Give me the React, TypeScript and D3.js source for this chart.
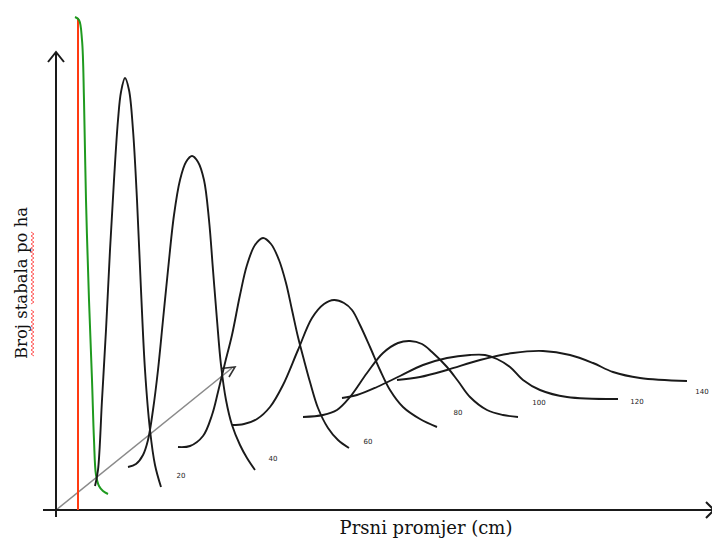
import React from "react";
import * as d3 from "d3";

// Diameter classes (cm) – one distribution curve per class
const classLabels = ["20", "40", "60", "80", "100", "120", "140"];

// Curves as [x, y] pairs in chart units (x: diameter axis, y: trees per ha)
const curve20: [number, number][] = [
  [39, 24], [42, 40], [46, 110], [50, 180], [54, 260], [58, 330], [62, 390], [65, 418], [69, 432],
  [73, 420], [77, 380], [81, 310], [85, 220], [89, 140], [94, 80], [99, 45], [105, 23],
];
const curve40: [number, number][] = [
  [72, 43], [80, 46], [87, 55], [92, 70], [97, 100], [102, 140], [107, 190], [112, 240], [118, 295],
  [124, 330], [130, 348], [136, 354], [142, 348], [148, 330], [153, 290], [157, 240], [161, 190],
  [165, 145], [170, 110], [176, 85], [184, 65], [191, 52], [199, 40],
];
const curve60: [number, number][] = [
  [122, 63], [134, 64], [147, 74], [156, 95], [162, 118], [169, 147], [176, 175], [184, 215], [191, 245],
  [199, 265], [207, 272], [215, 266], [223, 250], [230, 227], [236, 200], [242, 173], [248, 150],
  [254, 128], [262, 102], [272, 82], [282, 70], [293, 62],
];
const curve80: [number, number][] = [
  [176, 85], [188, 86], [201, 91], [214, 103], [227, 125], [242, 160], [256, 192], [268, 206], [278, 210],
  [288, 207], [296, 200], [304, 185], [314, 163], [324, 140], [334, 120], [347, 103], [364, 91], [381, 83],
];
const curve100: [number, number][] = [
  [247, 93], [267, 95], [281, 100], [294, 113], [311, 137], [327, 157], [342, 167], [354, 169], [366, 166],
  [376, 158], [391, 143], [402, 129], [414, 113], [431, 100], [447, 95], [462, 93],
];
const curve120: [number, number][] = [
  [286, 112], [301, 115], [321, 123], [344, 134], [367, 145], [391, 152], [414, 155], [429, 155],
  [441, 151], [454, 143], [467, 130], [484, 120], [511, 113], [562, 111],
];
const curve140: [number, number][] = [
  [341, 130], [364, 133], [391, 140], [424, 150], [457, 157], [487, 159], [514, 155], [537, 147],
  [557, 138], [584, 132], [631, 129],
];
const curves = [curve20, curve40, curve60, curve80, curve100, curve120, curve140];

// Label anchors for the class numbers (chart units)
const labelAnchors: [number, number][] = [
  [125, 34], [217, 51], [312, 68], [402, 97], [483, 107], [581, 108], [646, 118],
];

// Reverse-J (uneven-aged) distribution – green
const greenCurve: [number, number][] = [
  [19, 493], [23, 490], [26, 470], [28, 410], [30, 310], [33, 210], [36, 130], [38, 70],
  [40, 35], [43, 24], [47, 19], [52, 16],
];
// Red vertical reference line
const redLine: [number, number][] = [[22, 492], [22, 0]];
// Diagonal time axis
const diagonal: [number, number][] = [[0, 0], [176, 142]];

const W = 712;
const H = 539;

export default function App() {
  const x = d3.scaleLinear().domain([0, 656]).range([56, 712]);
  const y = d3.scaleLinear().domain([0, 500]).range([510, 10]);
  const line = d3
    .line<[number, number]>()
    .x((d) => x(d[0]))
    .y((d) => y(d[1]))
    .curve(d3.curveCatmullRom.alpha(0.5));
  const straight = d3
    .line<[number, number]>()
    .x((d) => x(d[0]))
    .y((d) => y(d[1]));

  const x0 = x(0);
  const y0 = y(0);
  const yTop = 52;
  const xRight = 714;

  // diagonal arrow tip
  const dEnd = diagonal[1];
  const tx = x(dEnd[0]);
  const ty = y(dEnd[1]);

  // spellcheck squiggle under y label
  const squig = (ya: number, yb: number) => {
    const pts: [number, number][] = [];
    let k = 0;
    for (let yy = ya; yy <= yb; yy += 2) {
      pts.push([k % 2 === 0 ? 31 : 34, yy]);
      k++;
    }
    return d3.line()(pts) || "";
  };

  return (
    <svg
      width={W}
      height={H}
      style={{ position: "absolute", left: 0, top: 0, background: "#fff" }}
    >
      <rect width={W} height={H} fill="#fff" />
      {/* diagonal axis */}
      <path d={straight(diagonal) || ""} stroke="#8a8a8a" strokeWidth={1.6} fill="none" />
      <path
        d={`M${tx - 11},${ty + 0.5} L${tx + 3},${ty - 1} L${tx - 3},${ty + 9}`}
        stroke="#333"
        strokeWidth={1.6}
        fill="none"
      />
      {/* axes */}
      <line x1={x0} y1={y0 + 7} x2={x0} y2={yTop} stroke="#1a1a1a" strokeWidth={2} />
      <path
        d={`M${x0 - 8},${yTop + 10} L${x0},${yTop} L${x0 + 8},${yTop + 10}`}
        stroke="#1a1a1a"
        strokeWidth={2}
        fill="none"
      />
      <line x1={43} y1={y0} x2={xRight} y2={y0} stroke="#1a1a1a" strokeWidth={2} />
      <path
        d={`M${xRight - 8},${y0 - 8} L${xRight},${y0} L${xRight - 8},${y0 + 8}`}
        stroke="#1a1a1a"
        strokeWidth={2}
        fill="none"
      />
      {/* red line */}
      <path d={straight(redLine) || ""} stroke="#ff3b12" strokeWidth={2} fill="none" />
      {/* green curve */}
      <path d={line(greenCurve) || ""} stroke="#1f9a1f" strokeWidth={2} fill="none" />
      {/* class curves */}
      {curves.map((c, i) => (
        <path key={i} d={line(c) || ""} stroke="#1a1a1a" strokeWidth={1.9} fill="none" />
      ))}
      {classLabels.map((lab, i) => (
        <text
          key={lab}
          x={x(labelAnchors[i][0])}
          y={y(labelAnchors[i][1])}
          fontSize={7}
          fontFamily="DejaVu Sans"
          fill="#222"
          textAnchor="middle"
          dominantBaseline="middle"
        >
          {lab}
        </text>
      ))}
      {/* axis titles */}
      <text
        x={426}
        y={534}
        fontFamily="DejaVu Serif"
        fontSize={18}
        textAnchor="middle"
        fill="#111"
      >
        Prsni promjer (cm)
      </text>
      <text
        transform="translate(27,283) rotate(-90)"
        fontFamily="DejaVu Serif"
        fontSize={16.5}
        textAnchor="middle"
        fill="#111"
      >
        Broj stabala po ha
      </text>
      <path d={squig(232, 304)} stroke="#ff5a5a" strokeWidth={1} fill="none" />
      <path d={squig(310, 357)} stroke="#ff5a5a" strokeWidth={1} fill="none" />
    </svg>
  );
}
